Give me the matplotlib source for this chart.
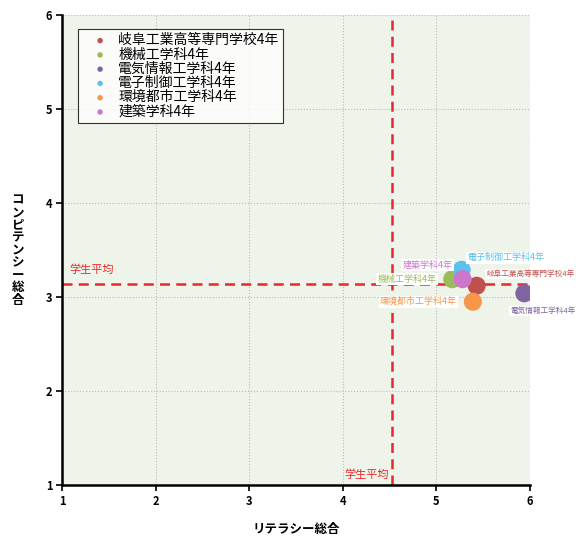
import matplotlib
matplotlib.use("Agg")
import matplotlib.pyplot as plt

plt.rcParams['font.family'] = ['Noto Sans CJK JP', 'DejaVu Sans']

# 学科別の平均スコア (リテラシー総合, コンピテンシー総合)
names = ["岐阜工業高等専門学校4年", "機械工学科4年", "電気情報工学科4年",
         "電子制御工学科4年", "環境都市工学科4年", "建築学科4年"]
literacy = [5.43, 5.17, 5.94, 5.27, 5.39, 5.28]
competency = [3.12, 3.19, 3.04, 3.29, 2.95, 3.19]
colors = ["#C0504D", "#9BBB59", "#8064A2", "#5BC0EB", "#F79646", "#CC77CC"]

# 学生平均
avg_literacy = 4.53
avg_competency = 3.14

ticks = [1, 2, 3, 4, 5, 6]

# point label offsets in pixels (dx, dy), alignment, size
label_pos = {
    "岐阜工業高等専門学校4年": (10, 12, "left", 5.5),
    "機械工学科4年": (-16, 0, "right", 6.5),
    "電気情報工学科4年": (-14, -18, "left", 5.5),
    "電子制御工学科4年": (6, 12, "left", 6.5),
    "環境都市工学科4年": (-16, 0, "right", 6.5),
    "建築学科4年": (-10, 14, "right", 6.5),
}

fig = plt.figure(figsize=(5.76, 5.36), dpi=100)
ax = fig.add_axes([0.1076, 0.095, 0.8125, 0.877])
ax.set_facecolor("#EEF4EA")

ax.set_xlim(1, 6)
ax.set_ylim(1, 6)
ax.set_xticks(ticks)
ax.set_yticks(ticks)
ax.set_xticklabels([str(t) for t in ticks], fontweight="bold", fontsize=8)
ax.set_yticklabels([str(t) for t in ticks], fontweight="bold", fontsize=8)
ax.tick_params(direction="out", length=4, width=1.2, color="black", pad=3)
ax.grid(True, color="#BBBBBB", linestyle=":", linewidth=0.8)
ax.set_axisbelow(True)

for side in ["top", "right"]:
    ax.spines[side].set_visible(False)
for side in ["left", "bottom"]:
    ax.spines[side].set_linewidth(1.8)

ax.axvline(avg_literacy, color="#E8282B", linestyle="--", linewidth=1.8, dashes=(4, 2.5))
ax.axhline(avg_competency, color="#E8282B", linestyle="--", linewidth=1.8, dashes=(4, 2.5))
ax.text(1.08, avg_competency + 0.1, "学生平均", color="#E8282B", fontsize=8, va="bottom", ha="left")
ax.text(avg_literacy - 0.04, 1.05, "学生平均", color="#E8282B", fontsize=8, va="bottom", ha="right")

for name, x, y, c in zip(names, literacy, competency, colors):
    ax.scatter(x, y, s=170, color=c, label=name, zorder=3, edgecolors="none")

for name, x, y, c in zip(names, literacy, competency, colors):
    dx, dy, ha, fs = label_pos[name]
    ax.annotate(name, (x, y), xytext=(dx, dy), textcoords="offset pixels",
                ha=ha, va="center", fontsize=fs, color=c, zorder=4,
                bbox=dict(boxstyle="square,pad=0.15", fc="white", ec="none"))

leg = ax.legend(loc="upper left", bbox_to_anchor=(0.034, 0.97), frameon=True, fancybox=False,
                fontsize=10, markerscale=0.3, handletextpad=0.0, labelspacing=0.02,
                borderpad=0.3, handlelength=2.6, borderaxespad=0)
leg.get_frame().set_edgecolor("black")
leg.get_frame().set_linewidth(0.8)
leg.get_frame().set_facecolor("white")

ax.set_xlabel("リテラシー総合", fontweight="bold", fontsize=9, labelpad=11)
ax.set_ylabel("\n".join("コンピテンシー総合"), fontweight="bold", fontsize=9,
              rotation=0, va="center", labelpad=20, linespacing=0.95)

fig.savefig("out.png", dpi=100)
